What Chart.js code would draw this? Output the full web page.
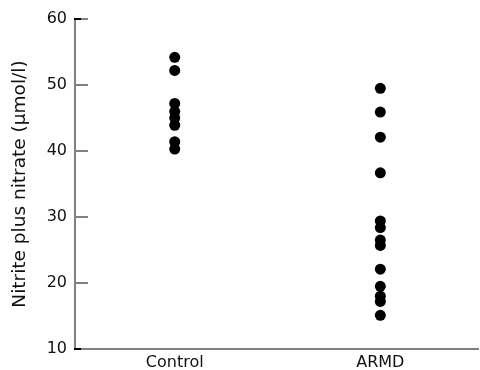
<!DOCTYPE html>
<html>
<head>
<meta charset="utf-8">
<script src="https://cdn.jsdelivr.net/npm/chart.js@4"></script>
<style>
  html, body { margin: 0; padding: 0; background: #fff; }
  #wrap { width: 480px; height: 370px; }
</style>
</head>
<body>
<div id="wrap"><canvas id="chart"></canvas></div>
<script>
'use strict';

// categories and their slot on the x axis
let groupNames = ['Control', 'ARMD'];
let groupSlots = [1, 3];

// nitrite plus nitrate, µmol/l
let controlValues = [54.2, 52.2, 47.2, 46.0, 45.0, 43.9, 41.4, 40.3];
let armdValues = [49.5, 45.9, 42.1, 36.7, 29.4, 28.4, 26.5, 25.7, 22.1, 19.5, 18.0, 17.2, 15.1];

let yTicks = [10, 20, 30, 40, 50, 60];

let groupValues = [controlValues, armdValues];

// build points from the arrays
let points = [];
groupValues.forEach(function (values, i) {
    values.forEach(function (v) {
        points.push({x: groupSlots[i], y: v});
    });
});

// tick marks drawn inward from the y axis
let innerTicks = {
    id: 'innerTicks',
    afterDraw: function (chart) {
        let ctx = chart.ctx;
        let yScale = chart.scales.y;
        let left = chart.chartArea.left;
        ctx.save();
        ctx.lineWidth = 2;
        yTicks.forEach(function (t) {
            let py = Math.round(yScale.getPixelForValue(t));
            ctx.strokeStyle = '#808080';
            ctx.beginPath();
            ctx.moveTo(left - 1, py);
            ctx.lineTo(left + 13, py);
            ctx.stroke();
            // ends of the axis are a darker stub
            if (t === yTicks[0] || t === yTicks[yTicks.length - 1]) {
                ctx.strokeStyle = '#000';
                ctx.beginPath();
                ctx.moveTo(left - 1, py);
                ctx.lineTo(left + 6, py);
                ctx.stroke();
            }
        });
        ctx.restore();
    }
};

Chart.defaults.font.family = '"DejaVu Sans", "Liberation Sans", Arial, sans-serif';
Chart.defaults.color = '#111';

new Chart(document.getElementById('chart'), {
    type: 'scatter',
    data: {
        datasets: [{
            data: points,
            backgroundColor: '#000',
            borderColor: '#000',
            borderWidth: 0,
            pointRadius: 5.5,
            pointHoverRadius: 5.5
        }]
    },
    options: {
        responsive: true,
        maintainAspectRatio: false,
        animation: false,
        layout: {autoPadding: false, padding: {left: 7, top: 19, right: 2, bottom: 0}},
        plugins: {legend: {display: false}, tooltip: {enabled: false}},
        scales: {
            x: {
                type: 'linear',
                min: 0.03,
                max: 3.95,
                afterBuildTicks: function (scale) {
                    scale.ticks = groupSlots.map(function (s) { return {value: s}; });
                },
                afterFit: function (scale) { scale.height = 21; },
                ticks: {
                    font: {size: 16},
                    padding: 4,
                    maxRotation: 0,
                    autoSkip: false,
                    callback: function (value) {
                        let i = groupSlots.indexOf(value);
                        return i >= 0 ? groupNames[i] : '';
                    }
                },
                grid: {display: false, drawTicks: false},
                border: {display: true, color: '#808080', width: 2}
            },
            y: {
                min: 10,
                max: 60,
                afterBuildTicks: function (scale) {
                    scale.ticks = yTicks.map(function (t) { return {value: t}; });
                },
                afterFit: function (scale) { scale.width = 68; },
                ticks: {font: {size: 16}, padding: 8},
                grid: {display: false, drawTicks: false},
                border: {display: true, color: '#808080', width: 2},
                title: {
                    display: true,
                    text: 'Nitrite plus nitrate (\u03bcmol/l)',
                    font: {size: 18.5},
                    padding: {top: 2, bottom: 4}
                }
            }
        }
    },
    plugins: [innerTicks]
});
</script>
</body>
</html>
